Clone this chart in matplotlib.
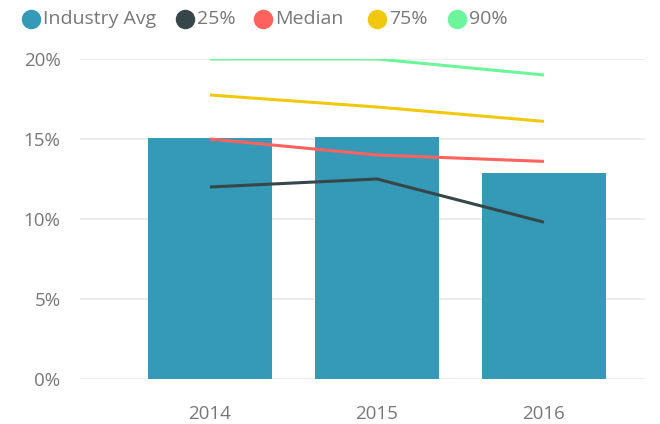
import matplotlib.pyplot as plt
from matplotlib.ticker import FuncFormatter

years = ['2014', '2015', '2016']
industry_avg = [15.05, 15.1, 12.9]
p25 = [12.0, 12.5, 9.8]
median = [15.0, 14.0, 13.6]
p75 = [17.75, 17.0, 16.1]
p90 = [20.0, 20.0, 19.0]

names = ['Industry Avg', '25%', 'Median', '75%', '90%']
colors = ['#3599B8', '#374649', '#FD625E', '#F2C80F', '#6CF59A']

plt.rcParams['font.family'] = ['Open Sans', 'DejaVu Sans']

fig = plt.figure(figsize=(6.6, 4.24), dpi=100)
ax = fig.add_axes([80 / 660, 1 - 379 / 424, 565 / 660, 320 / 424])

x = range(len(years))
ax.bar(x, industry_avg, width=0.74, color=colors[0], zorder=2)
for vals, c in zip([p25, median, p75, p90], colors[1:]):
    # lines are clipped to the plot area, so the 90% line at 20% shows half
    ax.plot(x, vals, color=c, lw=2.2, zorder=3, solid_capstyle='butt')

ax.set_xlim(-0.778, 2.605)
ax.set_ylim(0, 20)
ax.set_yticks([0, 5, 10, 15, 20])
ax.yaxis.set_major_formatter(FuncFormatter(lambda v, p: f'{v:.0f}%'))
ax.set_xticks(list(x))
ax.set_xticklabels(years)
ax.grid(axis='y', color='#EAEAEA', lw=1.2, zorder=0)
for s in ax.spines.values():
    s.set_visible(False)
ax.tick_params(length=0, colors='#777777', labelsize=13.5)
ax.tick_params(axis='y', pad=14)
ax.tick_params(axis='x', pad=19)

# legend
leg_x = [31, 185, 263, 377, 457]
for name, c, lx in zip(names, colors, leg_x):
    fig.lines.append(plt.Line2D([lx / 660], [1 - 19 / 424], marker='o',
                                ms=13, color=c, transform=fig.transFigure))
    fig.text((lx + 12) / 660, 1 - 19 / 424, name, color='#777777',
             fontsize=14, va='center', ha='left')

plt.savefig('out.png')
